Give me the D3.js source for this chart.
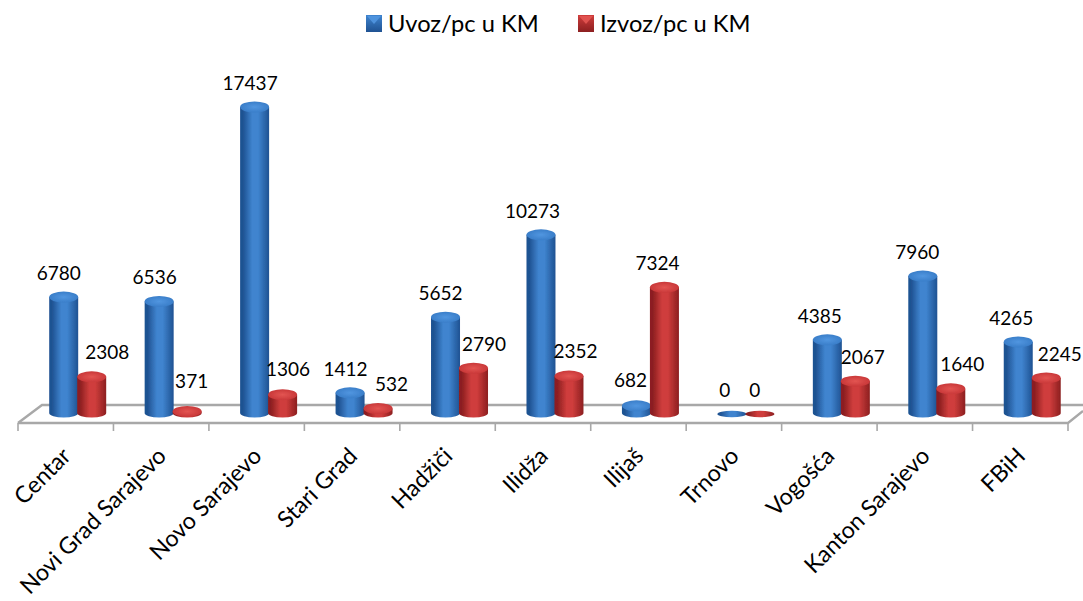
<!DOCTYPE html>
<html><head><meta charset="utf-8">
<script src="https://cdn.jsdelivr.net/npm/d3@7/dist/d3.min.js"></script>
<style>html,body{margin:0;background:#fff;overflow:hidden}text{font-family:Lato,"Open Sans",sans-serif;fill:#000}</style>
</head><body><svg id="c" width="1083" height="601"></svg>
<script>
const categories=["Centar","Novi Grad Sarajevo","Novo Sarajevo","Stari Grad","Hadžiči","Ilidža","Ilijaš","Trnovo","Vogošća","Kanton Sarajevo","FBiH"];
const seriesNames=["Uvoz/pc u KM","Izvoz/pc u KM"];
const uvoz=[6780,6536,17437,1412,5652,10273,682,0,4385,7960,4265];
const izvoz=[2308,371,1306,532,2790,2352,7324,0,2067,1640,2245];
const seriesValues=[uvoz,izvoz];
const palette=[{edge:"#1f5292",mid:"#3f84cf",top:"#3a7ec9",hi:"#5196e0"},{edge:"#8c1f20",mid:"#cf3d3c",top:"#c93839",hi:"#e35552"}];

const svg=d3.select("#c");
const x=d3.scaleBand().domain(categories).range([18,1068]);
const inner=d3.scaleBand().domain([0,1]).range([31.7,87.7]);
const y=d3.scaleLinear().domain([0,17437]).range([418,107]);
const baseY=413, rx=14.5, ry=5.5;

const defs=svg.append("defs");
defs.append("filter").attr("id","soft").append("feGaussianBlur").attr("stdDeviation",0.5);
palette.forEach((p,i)=>{
  const g=defs.append("linearGradient").attr("id","body"+i);
  [[0,p.edge],[.1,p.edge],[.42,p.mid],[.62,p.mid],[1,p.edge]].forEach(s=>g.append("stop").attr("offset",s[0]).attr("stop-color",s[1]));
  const t=defs.append("radialGradient").attr("id","cap"+i);
  t.append("stop").attr("offset",0).attr("stop-color",p.hi);
  t.append("stop").attr("offset",1).attr("stop-color",p.top);
  const l=defs.append("linearGradient").attr("id","leg"+i).attr("x1",0).attr("x2",0).attr("y1",0).attr("y2",1);
  l.append("stop").attr("offset",0).attr("stop-color",p.mid);
  l.append("stop").attr("offset",1).attr("stop-color",p.edge);
});

// floor
const floor=svg.append("g").attr("fill","none").attr("stroke","#a8a8a8").attr("stroke-width",2.4);
const frontY=423, backY=405;
floor.append("path").attr("d",`M18,${frontY}L42,${backY}H1083`);
floor.append("path").attr("d",`M18,${frontY}H1068L1083,${frontY-12}`);
const tickPos=categories.map(c=>x(c)).concat([x.range()[1]]);
floor.selectAll("line").data(tickPos).join("line").attr("stroke-width",1.6)
  .attr("x1",d=>d).attr("x2",d=>d).attr("y1",frontY).attr("y2",frontY+8);

// bars
const bars=svg.append("g").attr("filter","url(#soft)");
categories.forEach((c,ci)=>{
  [0,1].forEach(si=>{
    const v=seriesValues[si][ci];
    const cx=x(c)+inner(si)+inner.bandwidth()/2;
    const top=Math.min(y(v),baseY);
    const g=bars.append("g");
    if(v===0){
      g.append("ellipse").attr("cx",cx).attr("cy",baseY+1).attr("rx",rx).attr("ry",3.2).attr("fill","url(#body"+si+")");
      return;
    }
    g.append("path").attr("fill",`url(#body${si})`)
     .attr("d",`M${cx-rx},${top}V${baseY}A${rx},${ry-1} 0 0 0 ${cx+rx},${baseY}V${top}Z`);
    g.append("ellipse").attr("cx",cx).attr("cy",top).attr("rx",rx).attr("ry",ry).attr("fill",`url(#cap${si})`);
  });
});

// value labels
const labelDx=[[-5,-4.5,-4.5,-4.5,-5,-8.5,-6,-7,-7.5,-5.5,-7],[15.5,4.5,5.5,13.5,10.5,6.5,-7,-5,7.5,11.5,13.5]];
const labelDy=[[-17,-17,-17,-17,-17,-17,-19,-16,-17,-17,-17],[-18,-23,-19,-18,-17,-18,-17,-16,-17,-18,-17]];
categories.forEach((c,ci)=>{
  [0,1].forEach(si=>{
    const v=seriesValues[si][ci];
    const cx=x(c)+inner(si)+inner.bandwidth()/2;
    const top=Math.min(y(v),baseY);
    svg.append("text").attr("x",cx+labelDx[si][ci]).attr("y",top+labelDy[si][ci]).attr("text-anchor","middle")
      .attr("font-size",19).text(v);
  });
});

// category labels
svg.append("g").selectAll("text").data(categories).join("text")
  .attr("text-anchor","end").attr("font-size",23.2)
  .attr("transform",d=>`translate(${x(d)+x.bandwidth()/2-5},${446}) rotate(-45)`)
  .attr("dy","0.7em").text(d=>d);

// legend
const legX=[366,578];
seriesNames.forEach((n,i)=>{
  const g=svg.append("g").attr("transform",`translate(${legX[i]},15)`);
  g.append("rect").attr("width",16).attr("height",17).attr("fill",`url(#leg${i})`);
  g.append("path").attr("d","M1,1H15L8,9Z").attr("fill",palette[i].hi).attr("opacity",.9);
  g.append("text").attr("x",22).attr("y",16.5).attr("font-size",23.7).text(n);
});
</script></body></html>
